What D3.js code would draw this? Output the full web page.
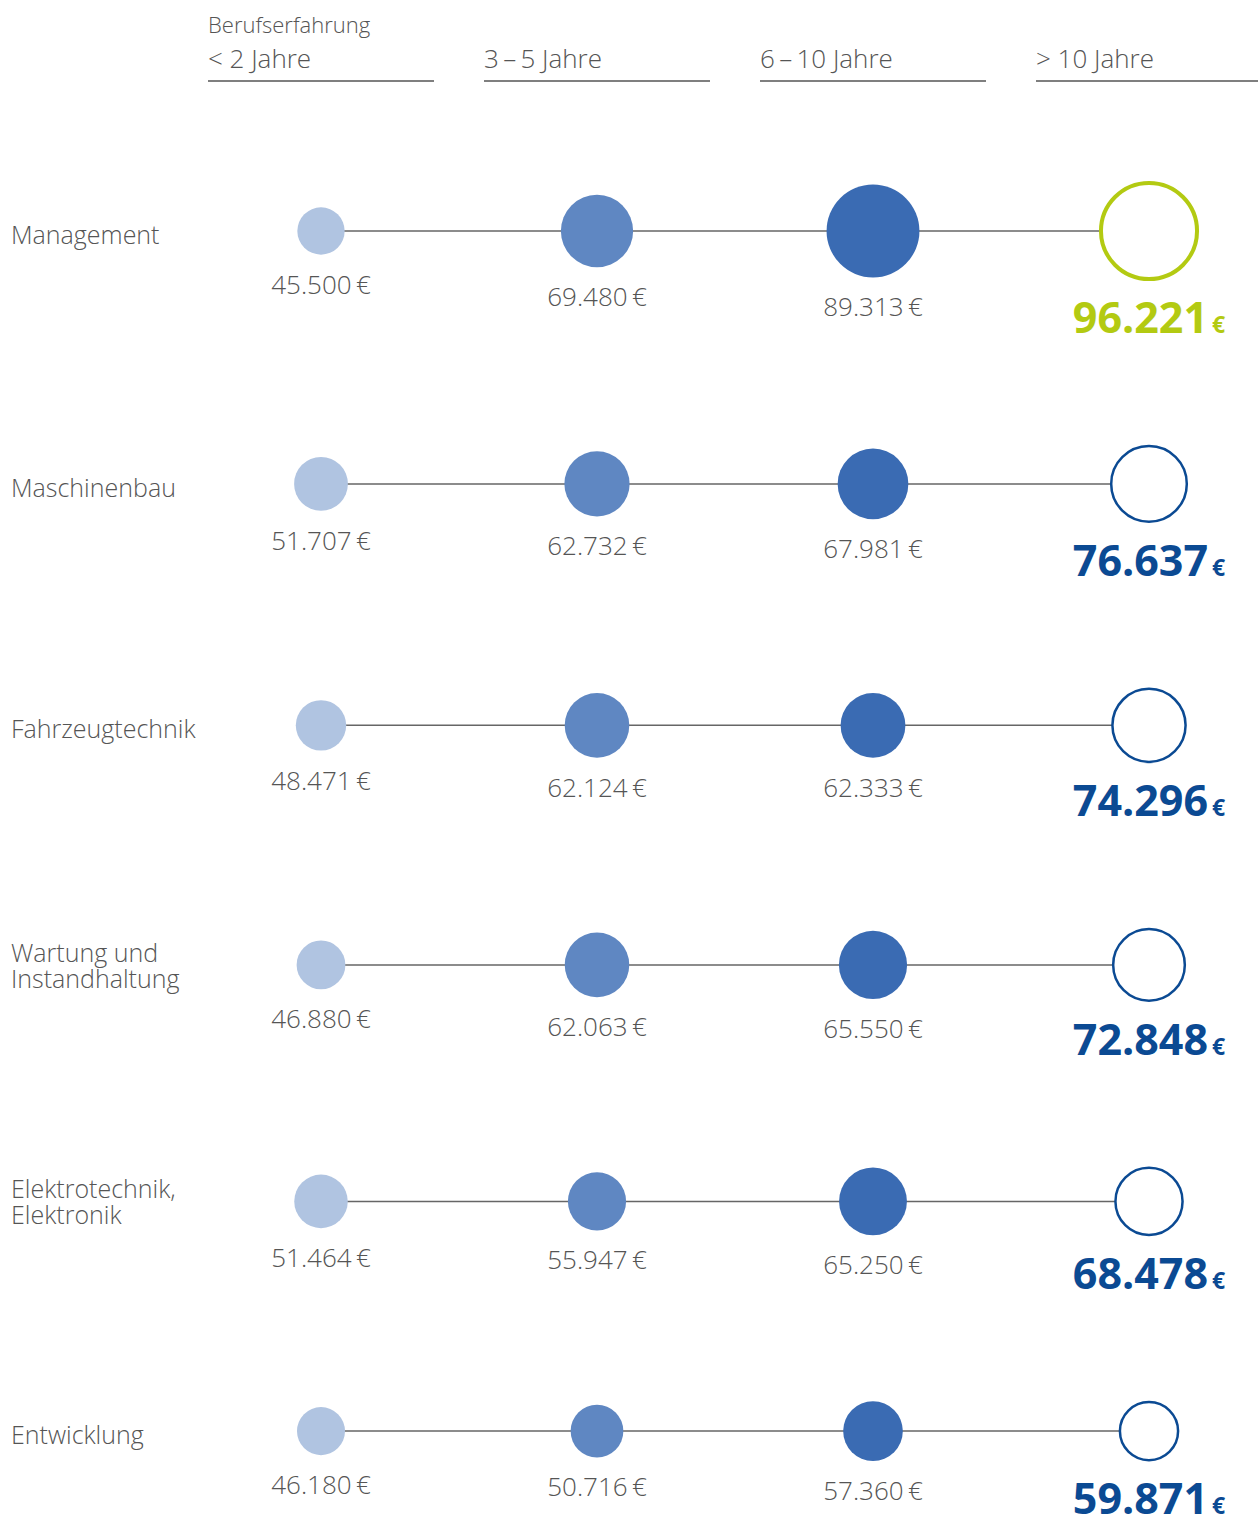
<!DOCTYPE html>
<html>
<head>
<meta charset="utf-8">
<script src="https://cdn.jsdelivr.net/npm/d3@7"></script>
<style>
  body { margin: 0; background: #fff; }
  text { font-family: "Open Sans", sans-serif; }
</style>
</head>
<body>
<script>
// Gehalt nach Berufserfahrung und Bereich
var categories = ["Management", "Maschinenbau", "Fahrzeugtechnik", "Wartung und|Instandhaltung", "Elektrotechnik,|Elektronik", "Entwicklung"];
var groups = ["< 2 Jahre", "3\u2009\u2013\u20095 Jahre", "6\u2009\u2013\u200910 Jahre", "> 10 Jahre"];
var under2 = [45500, 51707, 48471, 46880, 51464, 46180];
var from3to5 = [69480, 62732, 62124, 62063, 55947, 50716];
var from6to10 = [89313, 67981, 62333, 65550, 65250, 57360];
var over10 = [96221, 76637, 74296, 72848, 68478, 59871];
var highlight = [true, false, false, false, false, false];

var series = [under2, from3to5, from6to10, over10];
var fills = ["#b0c4e1", "#5f87c2", "#3a6bb3"];
var navy = "#0b4a93", green = "#b3ca12", grey = "#555";

var width = 1258, height = 1515;

var svg = d3.select("body").
  append("svg").
  attr("width", width).
  attr("height", height);

var x = d3.scalePoint().domain(groups).range([321, 1149]);
var r = d3.scaleLinear().domain([0, 100000]).range([0, 52]);

// rows are stacked with a fixed gap between their largest circles
var rowY = [];
categories.forEach(function(c, i){
    if (i === 0) { rowY.push(231); return; }
    var prev = d3.max(series, function(s){ return s[i-1]; });
    var cur = d3.max(series, function(s){ return s[i]; });
    rowY.push(rowY[i-1] + r(prev) + r(cur) + 163);
});
var y = d3.scaleOrdinal().domain(categories).range(rowY);

var fmt = function(v){ return d3.format(",")(v).replace(/,/g, "."); };

// header
svg.append("text").
  attr("x", 208).attr("y", 33).
  attr("font-size", 22).attr("font-weight", 300).
  attr("fill", grey).
  text("Berufserfahrung");

var head = svg.selectAll("g.head").data(groups).enter().append("g").attr("class", "head");
head.append("text").
  attr("x", function(d){ return x(d) - 113; }).
  attr("y", 68).
  attr("font-size", 26).attr("font-weight", 300).
  attr("fill", grey).
  text(function(d){ return d; });
head.append("line").
  attr("x1", function(d){ return x(d) - 113; }).
  attr("x2", function(d){ return Math.min(x(d) + 113, width); }).
  attr("y1", 81).attr("y2", 81).
  attr("stroke", grey).attr("stroke-width", 1.5);

// rows
var rows = svg.selectAll("g.row").data(categories).enter().append("g").
  attr("class", "row").
  attr("transform", function(d){ return "translate(0," + y(d) + ")"; });

rows.append("text").
  attr("x", 11).
  attr("font-size", 25).attr("font-weight", 300).
  attr("fill", grey).
  each(function(d){
      var lines = d.split("|");
      var t = d3.select(this);
      lines.forEach(function(l, k){
          t.append("tspan").
            attr("x", 11).
            attr("y", lines.length === 1 ? 13 : -3 + k * 26).
            text(l);
      });
  });

rows.append("line").
  attr("x1", x(groups[0])).
  attr("x2", x(groups[3])).
  attr("stroke", "#666").attr("stroke-width", 1.5);

rows.each(function(cat, i){
    var g = d3.select(this);
    series.forEach(function(s, j){
        var v = s[i];
        var cx = x(groups[j]);
        if (j < 3) {
            g.append("circle").
              attr("cx", cx).attr("r", r(v)).
              attr("fill", fills[j]);
            g.append("text").
              attr("x", cx).attr("y", r(v) + 39).
              attr("text-anchor", "middle").
              attr("font-size", 26).attr("font-weight", 300).
              attr("fill", grey).
              text(fmt(v) + "\u2009\u20ac");
        } else {
            var col = highlight[i] ? green : navy;
            var sw = highlight[i] ? 4 : 2.5;
            g.append("circle").
              attr("cx", cx).attr("r", r(v) - sw/2 - (highlight[i] ? 0 : 0.8)).
              attr("fill", "#fff").
              attr("stroke", col).attr("stroke-width", sw);
            var t = g.append("text").
              attr("x", cx).attr("y", r(v) + 52).
              attr("text-anchor", "middle").
              attr("fill", col).attr("font-weight", 700);
            t.append("tspan").attr("font-size", 43).text(fmt(v));
            t.append("tspan").attr("font-size", 23).attr("dx", 4).text("\u20ac");
        }
    });
});
</script>
</body>
</html>
